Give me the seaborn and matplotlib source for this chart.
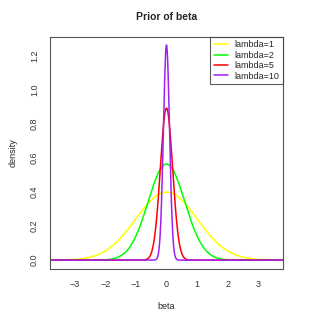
import numpy as np
import pandas as pd
import matplotlib
matplotlib.use("Agg")
import matplotlib.pyplot as plt
import seaborn as sns

# bell-shaped prior curves, peak height and spread
labels = ["lambda=1", "lambda=2", "lambda=5", "lambda=10"]
peaks = [0.399, 0.564, 0.892, 1.262]
spreads = [1.0, 0.6, 0.2, 0.1]
colors = ["#FFFF00", "#00FF00", "#FF0000", "#A020F0"]
beta = np.linspace(-3.8, 3.8, 1201)

frames = []
for lab, pk, sd in zip(labels, peaks, spreads):
    dens = pk * np.exp(-beta ** 2 / (2 * sd ** 2))
    frames.append(pd.DataFrame({"beta": beta, "density": dens, "prior": lab}))
df = pd.concat(frames, ignore_index=True)

sns.set_style("white")
plt.rcParams["font.family"] = ["Liberation Sans", "DejaVu Sans"]

fig = plt.figure(figsize=(3.15, 3.15), dpi=100)
ax = fig.add_axes([0.159, 0.146, 0.739, 0.737])
sns.lineplot(data=df, x="beta", y="density", hue="prior", hue_order=labels,
             palette=colors, linewidth=1.1, ax=ax, legend=False)

ax.set_xlim(-3.8, 3.8)
ax.set_ylim(-0.052, 1.31)
ax.set_xticks([-3, -2, -1, 0, 1, 2, 3])
ax.set_yticks([0.0, 0.2, 0.4, 0.6, 0.8, 1.0, 1.2])
ax.set_yticklabels(["0.0", "0.2", "0.4", "0.6", "0.8", "1.0", "1.2"], rotation=90, va="center")
ax.tick_params(axis="both", direction="out", length=4, width=0.7, labelsize=6.5, pad=4, colors="#333333")
for s in ax.spines.values():
    s.set_color("#555555")
    s.set_linewidth(0.8)
ax.set_xlabel("beta", fontsize=6.5, labelpad=9)
ax.set_ylabel("density", fontsize=6.5, labelpad=9)
ax.set_title("Prior of beta", fontsize=7.5, fontweight="bold", pad=12)

handles = [plt.Line2D([], [], color=c, lw=1.1) for c in colors]
leg = ax.legend(handles, labels, loc="upper right", fontsize=6.5, frameon=True,
                fancybox=False, borderaxespad=0, handlelength=1.6, labelspacing=0.15,
                borderpad=0.4, handletextpad=0.7)
leg.get_frame().set_edgecolor("#333333")
leg.get_frame().set_linewidth(0.8)

fig.savefig("out.png", dpi=100)
